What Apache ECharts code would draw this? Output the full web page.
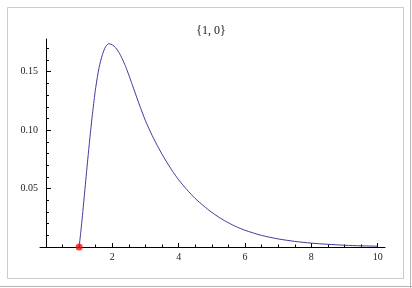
<!DOCTYPE html>
<html>
<head>
<meta charset="utf-8">
<script src="https://cdn.jsdelivr.net/npm/echarts@6/dist/echarts.min.js"></script>
<style>html,body{margin:0;padding:0;background:#fff;}#c{width:412px;height:288px;}</style>
</head>
<body>
<div id="c"></div>
<script>
var titleText = '{1, 0}';
var xs = [1.00,1.05,1.10,1.15,1.20,1.25,1.30,1.35,1.40,1.45,1.50,1.60,1.70,1.80,1.90,2.00,2.10,2.20,2.30,2.40,2.50,2.60,2.80,3.00,3.20,3.40,3.60,3.80,4.00,4.25,4.50,4.75,5.00,5.25,5.50,5.75,6.00,6.50,7.00,7.50,8.00,8.50,9.00,9.50,10.00];
var ys = [0,0.013,0.027,0.042,0.057,0.072,0.0865,0.1005,0.1135,0.1255,0.1365,0.1535,0.1645,0.1715,0.174,0.173,0.1705,0.1665,0.161,0.1545,0.147,0.139,0.123,0.108,0.0955,0.0845,0.0745,0.0655,0.0575,0.049,0.0415,0.0352,0.0296,0.0248,0.0207,0.0172,0.0143,0.0099,0.0069,0.0048,0.0033,0.0023,0.0015,0.001,0.0007];
var pointX = [1];
var pointY = [0];
var xMajorTicks = [2,4,6,8,10];
var xMinorTicks = [0.5,1,1.5,2.5,3,3.5,4.5,5,5.5,6.5,7,7.5,8.5,9,9.5];
var yMajorTicks = [0.05,0.10,0.15];
var yMinorTicks = [0.01,0.02,0.03,0.04,0.06,0.07,0.08,0.09,0.11,0.12,0.13,0.14,0.16,0.17];

var curve = xs.map(function(x,i){return [x, ys[i]];});
var pts = pointX.map(function(x,i){return [x, pointY[i]];});
var font = 'Liberation Serif';
var axisCol = '#000';

var chart = echarts.init(document.getElementById('c'), null, {renderer:'canvas'});
chart.setOption({
  backgroundColor: '#fff',
  animation: false,
  grid: {left: 40, right: 27, top: 39, bottom: 41, containLabel: false},
  xAxis: [{
    type: 'value', min: -0.18, max: 10.22, position: 'bottom',
    axisLine: {show: true, onZero: true, lineStyle: {color: axisCol, width: 1}},
    axisTick: {show: true, inside: true, length: 4, customValues: xMajorTicks, lineStyle: {color: axisCol}},
    axisLabel: {show: true, customValues: xMajorTicks, margin: 5, color: '#222', fontFamily: font, fontSize: 10},
    splitLine: {show: false}
  },{
    type: 'value', min: -0.18, max: 10.22, position: 'bottom',
    axisLine: {show: false},
    axisTick: {show: true, inside: true, length: 2.5, customValues: xMinorTicks, lineStyle: {color: axisCol}},
    axisLabel: {show: false},
    splitLine: {show: false}
  }],
  yAxis: [{
    type: 'value', min: 0, max: 0.178, position: 'left',
    axisLine: {show: true, onZero: true, lineStyle: {color: axisCol, width: 1}},
    axisTick: {show: true, inside: true, length: 5, customValues: yMajorTicks, lineStyle: {color: axisCol}},
    axisLabel: {show: true, customValues: yMajorTicks, margin: 2, color: '#222', fontFamily: font, fontSize: 10,
      formatter: function(v){return v.toFixed(2);}},
    splitLine: {show: false}
  },{
    type: 'value', min: 0, max: 0.178, position: 'left',
    axisLine: {show: false, onZero: true},
    axisTick: {show: true, inside: true, length: 3, customValues: yMinorTicks, lineStyle: {color: axisCol}},
    axisLabel: {show: false},
    splitLine: {show: false}
  }],
  series: [{
    type: 'line', data: curve, xAxisIndex: 0, yAxisIndex: 0,
    showSymbol: false, smooth: 0.25,
    lineStyle: {color: '#3d3d99', width: 1}, z: 3
  },{
    type: 'scatter', data: pts, xAxisIndex: 0, yAxisIndex: 0,
    symbolSize: 7, itemStyle: {color: '#ee1111'}, z: 5
  }],
  graphic: [
    {type: 'rect', shape: {x: 7.5, y: 7.5, width: 396, height: 271}, style: {fill: null, stroke: '#cccccc', lineWidth: 1}, silent: true},
    {type: 'line', shape: {x1: 410.5, y1: 0, x2: 410.5, y2: 288}, style: {stroke: '#b4b4b4', lineWidth: 1}, silent: true},
    {type: 'line', shape: {x1: 0, y1: 286.5, x2: 412, y2: 286.5}, style: {stroke: '#b4b4b4', lineWidth: 1}, silent: true},
    {type: 'text', x: 211, y: 31, style: {text: titleText, font: '12px "Liberation Serif"', fill: '#222', textAlign: 'center', textVerticalAlign: 'middle'}, silent: true}
  ]
});
</script>
</body>
</html>
